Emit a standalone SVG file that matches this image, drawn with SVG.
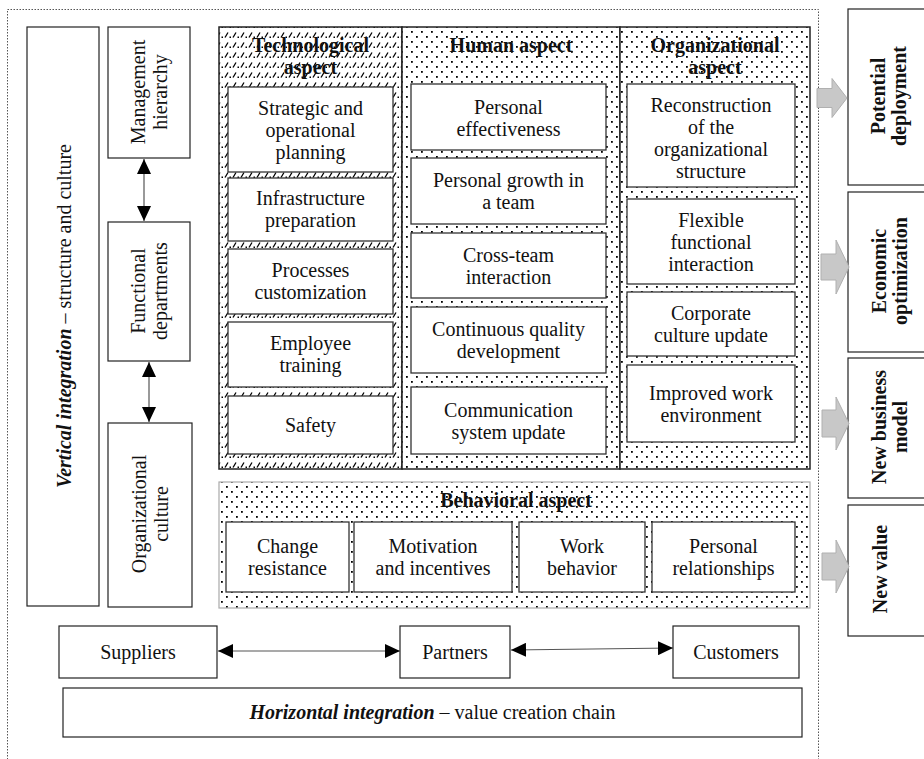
<svg xmlns="http://www.w3.org/2000/svg" width="924" height="759" viewBox="0 0 924 759">
<style>
.t{font-family:"Liberation Serif","Times New Roman",serif;font-size:20px;fill:#111;text-anchor:middle}
.b{font-weight:bold}
.box{fill:#fff;stroke:#222;stroke-width:1.2}
.ibox{fill:#fff;stroke:#333;stroke-width:1.3}
.col{stroke:#222;stroke-width:1.5}
.garrow{fill:#c8c8c8;stroke:#b0b0b0;stroke-width:1}
.conn{fill:none;stroke:#555;stroke-width:1.2}
</style>
<defs>
<pattern id="dots" width="10" height="10" patternUnits="userSpaceOnUse">
<rect width="10" height="10" fill="#fff"/>
<rect x="1" y="1" width="1.8" height="1.8" fill="#000"/>
<rect x="6" y="6" width="1.8" height="1.8" fill="#000"/>
</pattern>
<pattern id="slash" width="8" height="10" patternUnits="userSpaceOnUse">
<rect width="8" height="10" fill="#fff"/>
<path d="M1 7.5 L4 2.5" stroke="#000" stroke-width="1.3"/>
<rect x="5.5" y="6.5" width="1.5" height="1.5" fill="#000"/>
</pattern>
<marker id="ah" viewBox="0 0 15 14" refX="15" refY="7" markerWidth="15" markerHeight="14" markerUnits="userSpaceOnUse" orient="auto-start-reverse">
<path d="M0 0 L15 7 L0 14 Z" fill="#000"/>
</marker>
</defs>
<rect width="924" height="759" fill="#fff"/>
<rect x="7.5" y="9.5" width="811" height="770" fill="none" stroke="#555" stroke-width="1" stroke-dasharray="1.5 1.5"/>

<g id="vertical-integration">
<rect class="box" x="27" y="27" width="72" height="579"/>
<text class="t" transform="translate(71,316) rotate(-90)"><tspan class="b" font-style="italic">Vertical integration</tspan> – structure and culture</text>
</g>
<g id="management-hierarchy">
<rect class="box" x="108" y="27" width="82" height="131"/>
<text class="t" transform="translate(145,92) rotate(-90)"><tspan x="0" y="0">Management</tspan><tspan x="0" y="22">hierarchy</tspan></text>
</g>
<g id="functional-departments">
<rect class="box" x="108" y="222" width="82" height="139"/>
<text class="t" transform="translate(145,291) rotate(-90)"><tspan x="0" y="0">Functional</tspan><tspan x="0" y="22">departments</tspan></text>
</g>
<g id="organizational-culture">
<rect class="box" x="108" y="423" width="84" height="184"/>
<text class="t" transform="translate(146,514) rotate(-90)"><tspan x="0" y="0">Organizational</tspan><tspan x="0" y="22">culture</tspan></text>
</g>

<g id="technological-aspect">
<rect class="col" x="219" y="27" width="183" height="442" fill="url(#slash)"/>
<text class="t b"><tspan x="310.5" y="52">Technological</tspan><tspan x="310.5" y="74">aspect</tspan></text>
</g>
<g id="human-aspect">
<rect class="col" x="402" y="27" width="218" height="442" fill="url(#dots)"/>
<text class="t b" x="511" y="52">Human aspect</text>
</g>
<g id="organizational-aspect">
<rect class="col" x="620" y="27" width="190" height="442" fill="url(#dots)"/>
<text class="t b"><tspan x="715" y="52">Organizational</tspan><tspan x="715" y="74">aspect</tspan></text>
</g>

<g id="strategic-planning"><rect class="ibox" x="228" y="87" width="165" height="85"/>
<text class="t"><tspan x="310.5" y="115">Strategic and</tspan><tspan x="310.5" y="137">operational</tspan><tspan x="310.5" y="159">planning</tspan></text></g>
<g id="infrastructure-preparation"><rect class="ibox" x="228" y="178" width="165" height="63"/>
<text class="t"><tspan x="310.5" y="205">Infrastructure</tspan><tspan x="310.5" y="227">preparation</tspan></text></g>
<g id="processes-customization"><rect class="ibox" x="228" y="249" width="165" height="65"/>
<text class="t"><tspan x="310.5" y="277">Processes</tspan><tspan x="310.5" y="299">customization</tspan></text></g>
<g id="employee-training"><rect class="ibox" x="228" y="322" width="165" height="65"/>
<text class="t"><tspan x="310.5" y="350">Employee</tspan><tspan x="310.5" y="372">training</tspan></text></g>
<g id="safety"><rect class="ibox" x="228" y="396" width="165" height="58"/>
<text class="t" x="310.5" y="432">Safety</text></g>

<g id="personal-effectiveness"><rect class="ibox" x="411" y="84" width="195" height="66"/>
<text class="t"><tspan x="508.5" y="114">Personal</tspan><tspan x="508.5" y="136">effectiveness</tspan></text></g>
<g id="personal-growth"><rect class="ibox" x="411" y="158" width="195" height="66"/>
<text class="t"><tspan x="508.5" y="187">Personal growth in</tspan><tspan x="508.5" y="209">a team</tspan></text></g>
<g id="cross-team"><rect class="ibox" x="411" y="233" width="195" height="65"/>
<text class="t"><tspan x="508.5" y="262">Cross-team</tspan><tspan x="508.5" y="284">interaction</tspan></text></g>
<g id="continuous-quality"><rect class="ibox" x="411" y="307" width="195" height="66"/>
<text class="t"><tspan x="508.5" y="336">Continuous quality</tspan><tspan x="508.5" y="358">development</tspan></text></g>
<g id="communication-system"><rect class="ibox" x="411" y="387" width="195" height="67"/>
<text class="t"><tspan x="508.5" y="417">Communication</tspan><tspan x="508.5" y="439">system update</tspan></text></g>

<g id="reconstruction"><rect class="ibox" x="627" y="84" width="168" height="103"/>
<text class="t"><tspan x="711" y="112">Reconstruction</tspan><tspan x="711" y="134">of the</tspan><tspan x="711" y="156">organizational</tspan><tspan x="711" y="178">structure</tspan></text></g>
<g id="flexible-interaction"><rect class="ibox" x="627" y="199" width="168" height="85"/>
<text class="t"><tspan x="711" y="227">Flexible</tspan><tspan x="711" y="249">functional</tspan><tspan x="711" y="271">interaction</tspan></text></g>
<g id="corporate-culture"><rect class="ibox" x="627" y="292" width="168" height="64"/>
<text class="t"><tspan x="711" y="320">Corporate</tspan><tspan x="711" y="342">culture update</tspan></text></g>
<g id="improved-environment"><rect class="ibox" x="627" y="365" width="168" height="77"/>
<text class="t"><tspan x="711" y="400">Improved work</tspan><tspan x="711" y="422">environment</tspan></text></g>

<g id="behavioral-aspect">
<rect x="219" y="482" width="591" height="126" fill="url(#dots)" stroke="#aaa" stroke-width="1.2"/>
<text class="t b" x="516" y="507">Behavioral aspect</text>
</g>
<g id="change-resistance"><rect class="ibox" x="226" y="522" width="123" height="70"/>
<text class="t"><tspan x="287.5" y="553">Change</tspan><tspan x="287.5" y="575">resistance</tspan></text></g>
<g id="motivation"><rect class="ibox" x="354" y="522" width="158" height="70"/>
<text class="t"><tspan x="433" y="553">Motivation</tspan><tspan x="433" y="575">and incentives</tspan></text></g>
<g id="work-behavior"><rect class="ibox" x="519" y="522" width="126" height="70"/>
<text class="t"><tspan x="582" y="553">Work</tspan><tspan x="582" y="575">behavior</tspan></text></g>
<g id="personal-relationships"><rect class="ibox" x="652" y="522" width="143" height="70"/>
<text class="t"><tspan x="723.5" y="553">Personal</tspan><tspan x="723.5" y="575">relationships</tspan></text></g>

<g id="suppliers"><rect class="box" x="59" y="626" width="158" height="52"/>
<text class="t" x="138" y="659">Suppliers</text></g>
<g id="partners"><rect class="box" x="400" y="626" width="110" height="52"/>
<text class="t" x="455" y="659">Partners</text></g>
<g id="customers"><rect class="box" x="673" y="626" width="126" height="52"/>
<text class="t" x="736" y="659">Customers</text></g>
<g id="horizontal-integration"><rect class="box" x="63" y="688" width="739" height="49"/>
<text class="t" x="432.5" y="719"><tspan class="b" font-style="italic">Horizontal integration</tspan> – value creation chain</text></g>

<g id="potential-deployment"><rect class="box" x="848" y="9" width="82" height="176"/>
<text class="t b" transform="translate(885,96) rotate(-90)"><tspan x="0" y="0">Potential</tspan><tspan x="0" y="21">deployment</tspan></text></g>
<g id="economic-optimization"><rect class="box" x="848" y="192" width="82" height="160"/>
<text class="t b" transform="translate(886,271) rotate(-90)"><tspan x="0" y="0">Economic</tspan><tspan x="0" y="21">optimization</tspan></text></g>
<g id="new-business-model"><rect class="box" x="848" y="358" width="82" height="140"/>
<text class="t b" transform="translate(886,427) rotate(-90)"><tspan x="0" y="0">New business</tspan><tspan x="0" y="21">model</tspan></text></g>
<g id="new-value"><rect class="box" x="848" y="505" width="82" height="131"/>
<text class="t b" transform="translate(887,569) rotate(-90)">New value</text></g>

<g id="connectors">
<path class="conn" d="M144 159 L144 221" marker-start="url(#ah)" marker-end="url(#ah)"/>
<path class="conn" d="M149 362 L149 422" marker-start="url(#ah)" marker-end="url(#ah)"/>
<path class="conn" d="M218 651 L400 651" marker-start="url(#ah)" marker-end="url(#ah)"/>
<path class="conn" d="M511 650 L673 648" marker-start="url(#ah)" marker-end="url(#ah)"/>
<polygon class="garrow" points="817,88.5 832,88.5 832,78.5 847,98 832,117.5 832,107.5 817,107.5"/>
<polygon class="garrow" points="821,254 836,254 836,240 849,267 836,294 836,280 821,280"/>
<polygon class="garrow" points="822,410 836,410 836,397 849,423.5 836,450 836,437 822,437"/>
<polygon class="garrow" points="822,553 836,553 836,540 849,566.5 836,593 836,580 822,580"/>
</g>
</svg>
